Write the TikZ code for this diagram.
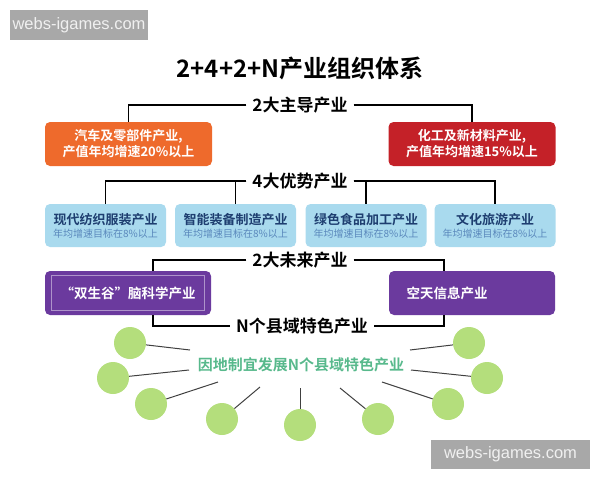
\documentclass[tikz,border=0pt]{standalone}
\usepackage{fontspec}
\setmainfont{Noto Sans CJK SC}[BoldFont={Noto Sans CJK SC Bold}]
\newfontfamily\wmfont{Liberation Sans}
\usepackage{tikz}

\definecolor{orangebox}{HTML}{EE6A2C}
\definecolor{redbox}{HTML}{C42128}
\definecolor{bluebox}{HTML}{A9DAEE}
\definecolor{bluetext}{HTML}{1E3E70}
\definecolor{bluesub}{HTML}{5A88BC}
\definecolor{purplebox}{HTML}{6B3A9E}
\definecolor{dotgreen}{HTML}{B4DE7C}
\definecolor{textgreen}{HTML}{58B98C}
\definecolor{wmgray}{HTML}{A8A8A8}

\begin{document}
\begin{tikzpicture}[x=1pt, y=-1pt,
        head/.style={font=\fontsize{17}{19}\selectfont\bfseries, inner xsep=6pt, inner ysep=2pt},
        leadbox/.style={rounded corners=5pt, minimum width=167pt, minimum height=44pt, text=white,
            align=center, font=\fontsize{13}{16}\selectfont\bfseries},
        advbox/.style={rounded corners=5pt, fill=bluebox, minimum width=121pt, minimum height=43pt,
            align=center, inner sep=1pt},
        futbox/.style={rounded corners=5pt, fill=purplebox, minimum width=166pt, minimum height=44pt,
            text=white, font=\fontsize{13.5}{15}\selectfont\bfseries},
        tree/.style={draw=black, line width=1.8pt},
        dot/.style={circle, fill=dotgreen, minimum size=32pt, inner sep=0pt},
        spoke/.style={draw=black!75, line width=1pt},
        mark box/.style={fill=wmgray, text=white!94!black, font=\wmfont\fontsize{16.5}{18}\selectfont,
            inner sep=0pt}]
    \useasboundingbox (0,0) rectangle (600,480);

    % watermarks
    \node[mark box, minimum width=138pt, minimum height=30pt] (wm1) at (79,25) {webs-igames.com};
    \node[mark box, minimum width=159pt, minimum height=29pt] (wm2) at (510.5,454.5) {webs-igames.com};

    % title
    \node[font=\fontsize{24}{26}\selectfont\bfseries] (title) at (300,68) {2+4+2+N产业组织体系};

    % 2 leading industries
    \node[head] (h1) at (300,105) {2大主导产业};
    \node[leadbox, fill=orangebox] (car) at (128.5,144) {汽车及零部件产业,\\产值年均增速20\%以上};
    \node[leadbox, fill=redbox] (chem) at (472,144) {化工及新材料产业,\\产值年均增速15\%以上};
    \draw[tree] (h1.west) -| (car.north);
    \draw[tree] (h1.east) -| (chem.north);

    % 4 advantage industries
    \node[head] (h2) at (300,181) {4大优势产业};
    \node[advbox] (tex) at (105.5,225.5) {{\color{bluetext}\fontsize{13}{15}\selectfont\bfseries 现代纺织服装产业}\\[1pt]
        {\color{bluesub}\fontsize{10}{12}\selectfont 年均增速目标在8\%以上}};
    \node[advbox] (eqp) at (235.5,225.5) {{\color{bluetext}\fontsize{13}{15}\selectfont\bfseries 智能装备制造产业}\\[1pt]
        {\color{bluesub}\fontsize{10}{12}\selectfont 年均增速目标在8\%以上}};
    \node[advbox] (food) at (366,225.5) {{\color{bluetext}\fontsize{13}{15}\selectfont\bfseries 绿色食品加工产业}\\[1pt]
        {\color{bluesub}\fontsize{10}{12}\selectfont 年均增速目标在8\%以上}};
    \node[advbox] (tour) at (495,225.5) {{\color{bluetext}\fontsize{13}{15}\selectfont\bfseries 文化旅游产业}\\[1pt]
        {\color{bluesub}\fontsize{10}{12}\selectfont 年均增速目标在8\%以上}};
    \draw[tree] (h2.west) -| (tex.north);
    \draw[tree] (h2.west) -| (eqp.north);
    \draw[tree] (h2.east) -| (food.north);
    \draw[tree] (h2.east) -| (tour.north);

    % 2 future industries
    \node[head] (h3) at (300,260) {2大未来产业};
    \node[futbox] (brain) at (128,293) {“双生谷”脑科学产业};
    \node[futbox] (space) at (472,293) {空天信息产业\hspace*{50pt}};
    \draw[purplebox!55!white, line width=1pt] ([shift={(7,5)}]brain.north west) rectangle ([shift={(-7,-5)}]brain.south east);
    \draw[tree] (h3.west) -| ([xshift=25pt]brain.north);
    \draw[tree] (h3.east) -| ([xshift=-28pt]space.north);

    % N county industries
    \node[head] (h4) at (302,326) {N个县域特色产业};
    \draw[tree] ([xshift=25pt]brain.south) |- (h4.west);
    \draw[tree] ([xshift=-28pt]space.south) |- (h4.east);
    \node[text=textgreen, font=\fontsize{15}{17}\selectfont\bfseries] (local) at (301,365) {因地制宜发展N个县域特色产业};

    \foreach \i/\cx/\cy/\ex/\ey in {1/130/343/190/350, 2/113/378/189/370, 3/151/404/218/382,
            4/222/419/260/387, 5/300/425/300/388, 6/378/419/340/388,
            7/448/404/382/382, 8/487/378/411/370, 9/469/343/410/350} {
        \node[dot] (c\i) at (\cx,\cy) {};
        \coordinate (e\i) at (\ex,\ey);
        \draw[spoke] (c\i) -- (e\i);
    }
\end{tikzpicture}
\end{document}
